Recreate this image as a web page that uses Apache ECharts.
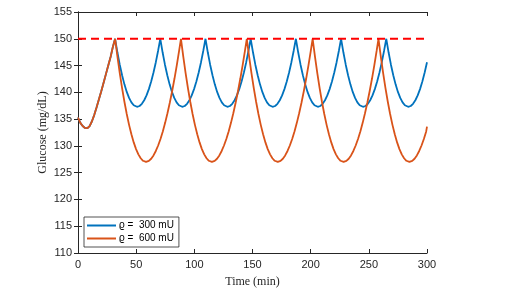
<!DOCTYPE html>
<html>
<head>
<meta charset="utf-8">
<script src="https://cdn.jsdelivr.net/npm/echarts@6/dist/echarts.min.js"></script>
<style>html,body{margin:0;padding:0;background:#fff;}#c{width:528px;height:294px;}</style>
</head>
<body>
<div id="c"></div>
<script>
// Tick labels
const xTicks = [0, 50, 100, 150, 200, 250, 300];
const yTicks = [110, 115, 120, 125, 130, 135, 140, 145, 150, 155];
const threshold = 150;

// Series: rho = 300 mU
const blueTime = [
  0,2,4,6,8,10,12,14,16,18,20,22,24,26,28,30,
  31.9,33.9,35.9,37.9,39.9,41.9,43.9,45.9,47.9,50.7,52.9,54.9,56.9,58.9,60.9,62.9,64.9,66.9,68.9,
  70.75,72.75,74.75,76.75,78.75,80.75,82.75,84.75,86.75,89.55,91.75,93.75,95.75,97.75,99.75,101.75,103.75,105.75,107.75,
  109.6,111.6,113.6,115.6,117.6,119.6,121.6,123.6,125.6,128.4,130.6,132.6,134.6,136.6,138.6,140.6,142.6,144.6,146.6,
  148.45,150.45,152.45,154.45,156.45,158.45,160.45,162.45,164.45,167.25,169.45,171.45,173.45,175.45,177.45,179.45,181.45,183.45,185.45,
  187.3,189.3,191.3,193.3,195.3,197.3,199.3,201.3,203.3,206.1,208.3,210.3,212.3,214.3,216.3,218.3,220.3,222.3,224.3,
  226.15,228.15,230.15,232.15,234.15,236.15,238.15,240.15,242.15,244.95,247.15,249.15,251.15,253.15,255.15,257.15,259.15,261.15,263.15,
  265,267,269,271,273,275,277,279,281,283.8,286,288,290,292,294,296,298,300
];
const blueGlucose = [
  135.3,134.3,133.7,133.35,133.3,133.7,134.6,135.8,137.2,138.7,140.2,141.8,143.4,145.0,146.6,148.5,
  150,147.43,145.16,143.18,141.49,140.08,138.96,138.13,137.58,137.3,137.45,137.86,138.52,139.43,140.6,142.03,143.7,145.63,147.82,
  150,147.43,145.16,143.18,141.49,140.08,138.96,138.13,137.58,137.3,137.45,137.86,138.52,139.43,140.6,142.03,143.7,145.63,147.82,
  150,147.43,145.16,143.18,141.49,140.08,138.96,138.13,137.58,137.3,137.45,137.86,138.52,139.43,140.6,142.03,143.7,145.63,147.82,
  150,147.43,145.16,143.18,141.49,140.08,138.96,138.13,137.58,137.3,137.45,137.86,138.52,139.43,140.6,142.03,143.7,145.63,147.82,
  150,147.43,145.16,143.18,141.49,140.08,138.96,138.13,137.58,137.3,137.45,137.86,138.52,139.43,140.6,142.03,143.7,145.63,147.82,
  150,147.43,145.16,143.18,141.49,140.08,138.96,138.13,137.58,137.3,137.45,137.86,138.52,139.43,140.6,142.03,143.7,145.63,147.82,
  150,147.43,145.16,143.18,141.49,140.08,138.96,138.13,137.58,137.3,137.45,137.86,138.52,139.43,140.6,142.03,143.7,145.63
];

// Series: rho = 600 mU
const orangeTime = [
  0,2,4,6,8,10,12,14,16,18,20,22,24,26,28,30,
  31.9,33.9,35.9,37.9,39.9,41.9,43.9,45.9,47.9,49.9,51.9,53.9,55.9,58.5,60.9,62.9,64.9,66.9,68.9,70.9,72.9,74.9,76.9,78.9,80.9,82.9,84.9,86.9,
  88.5,90.5,92.5,94.5,96.5,98.5,100.5,102.5,104.5,106.5,108.5,110.5,112.5,115.1,117.5,119.5,121.5,123.5,125.5,127.5,129.5,131.5,133.5,135.5,137.5,139.5,141.5,143.5,
  145.1,147.1,149.1,151.1,153.1,155.1,157.1,159.1,161.1,163.1,165.1,167.1,169.1,171.7,174.1,176.1,178.1,180.1,182.1,184.1,186.1,188.1,190.1,192.1,194.1,196.1,198.1,200.1,
  201.7,203.7,205.7,207.7,209.7,211.7,213.7,215.7,217.7,219.7,221.7,223.7,225.7,228.3,230.7,232.7,234.7,236.7,238.7,240.7,242.7,244.7,246.7,248.7,250.7,252.7,254.7,256.7,
  258.3,260.3,262.3,264.3,266.3,268.3,270.3,272.3,274.3,276.3,278.3,280.3,282.3,284.9,287.3,289.3,291.3,293.3,295.3,297.3,299.3,300
];
const orangeGlucose = [
  135.3,134.3,133.7,133.35,133.3,133.7,134.6,135.8,137.2,138.7,140.2,141.8,143.4,145.0,146.6,148.5,
  150,146.67,143.6,140.79,138.24,135.96,133.93,132.16,130.65,129.4,128.42,127.69,127.22,127.0,127.19,127.6,128.22,129.05,130.07,131.29,132.7,134.3,136.09,138.05,140.2,142.53,145.04,147.73,
  150,146.67,143.6,140.79,138.24,135.96,133.93,132.16,130.65,129.4,128.42,127.69,127.22,127.0,127.19,127.6,128.22,129.05,130.07,131.29,132.7,134.3,136.09,138.05,140.2,142.53,145.04,147.73,
  150,146.67,143.6,140.79,138.24,135.96,133.93,132.16,130.65,129.4,128.42,127.69,127.22,127.0,127.19,127.6,128.22,129.05,130.07,131.29,132.7,134.3,136.09,138.05,140.2,142.53,145.04,147.73,
  150,146.67,143.6,140.79,138.24,135.96,133.93,132.16,130.65,129.4,128.42,127.69,127.22,127.0,127.19,127.6,128.22,129.05,130.07,131.29,132.7,134.3,136.09,138.05,140.2,142.53,145.04,147.73,
  150,146.67,143.6,140.79,138.24,135.96,133.93,132.16,130.65,129.4,128.42,127.69,127.22,127.0,127.19,127.6,128.22,129.05,130.07,131.29,132.7,133.6
];

const seriesNames = ['\u03F1 =  300 mU', '\u03F1 =  600 mU'];

const zip = (t, v) => t.map((x, i) => [x, v[i]]);
const axisColor = '#262626';
const labelFont = { color: axisColor, fontFamily: 'Liberation Sans, Arial, sans-serif', fontSize: 11 };

const chart = echarts.init(document.getElementById('c'), null, { renderer: 'canvas' });
const baseX = {
  type: 'value', min: xTicks[0], max: xTicks[xTicks.length - 1], interval: 50,
  axisLine: { show: true, lineStyle: { color: axisColor, width: 1 } },
  axisTick: { show: true, inside: true, length: 4, lineStyle: { color: axisColor } },
  splitLine: { show: false }
};
const baseY = {
  type: 'value', min: yTicks[0], max: yTicks[yTicks.length - 1], interval: 5,
  axisLine: { show: true, lineStyle: { color: axisColor, width: 1 } },
  axisTick: { show: true, inside: true, length: 4, lineStyle: { color: axisColor } },
  splitLine: { show: false }
};
chart.setOption({
  animation: false,
  backgroundColor: '#fff',
  grid: { left: 78, top: 12, width: 349, height: 241, containLabel: false },
  legend: {
    data: seriesNames,
    orient: 'vertical',
    left: 84, top: 217,
    icon: 'rect', itemWidth: 29, itemHeight: 2,
    itemGap: 2,
    padding: [3, 5, 3, 3],
    backgroundColor: '#fff', borderColor: '#262626', borderWidth: 0.8,
    textStyle: { color: '#000', fontFamily: 'Liberation Sans, Arial, sans-serif', fontSize: 10, lineHeight: 11, padding: [0, 0, 0, -2] }
  },
  xAxis: [
    Object.assign({}, baseX, {
      position: 'bottom',
      axisLabel: Object.assign({ margin: 6 }, labelFont),
      name: 'Time (min)', nameLocation: 'middle', nameGap: 23, nameMoveOverlap: false,
      nameTextStyle: { color: axisColor, fontFamily: 'Liberation Serif, Times New Roman, serif', fontSize: 12 }
    }),
    Object.assign({}, baseX, { position: 'top', axisLabel: { show: false } })
  ],
  yAxis: [
    Object.assign({}, baseY, {
      position: 'left',
      axisLabel: Object.assign({ margin: 6 }, labelFont),
      name: 'Glucose (mg/dL)', nameLocation: 'middle', nameGap: 29, nameMoveOverlap: false,
      nameTextStyle: { color: axisColor, fontFamily: 'Liberation Serif, Times New Roman, serif', fontSize: 12 }
    }),
    Object.assign({}, baseY, { position: 'right', axisLabel: { show: false } })
  ],
  series: [
    {
      name: seriesNames[0], type: 'line', data: zip(blueTime, blueGlucose),
      showSymbol: false, symbol: 'none', smooth: false,
      lineStyle: { color: '#0072BD', width: 1.8 }, itemStyle: { color: '#0072BD' }, z: 3
    },
    {
      name: seriesNames[1], type: 'line', data: zip(orangeTime, orangeGlucose),
      showSymbol: false, symbol: 'none', smooth: false,
      lineStyle: { color: '#D95319', width: 1.8 }, itemStyle: { color: '#D95319' }, z: 4
    },
    {
      name: 'threshold', type: 'line', data: [[xTicks[0], threshold], [xTicks[xTicks.length - 1], threshold]],
      showSymbol: false, symbol: 'none',
      lineStyle: { color: '#FF0000', width: 2, type: [8, 5] }, z: 5
    }
  ]
});
</script>
</body>
</html>
